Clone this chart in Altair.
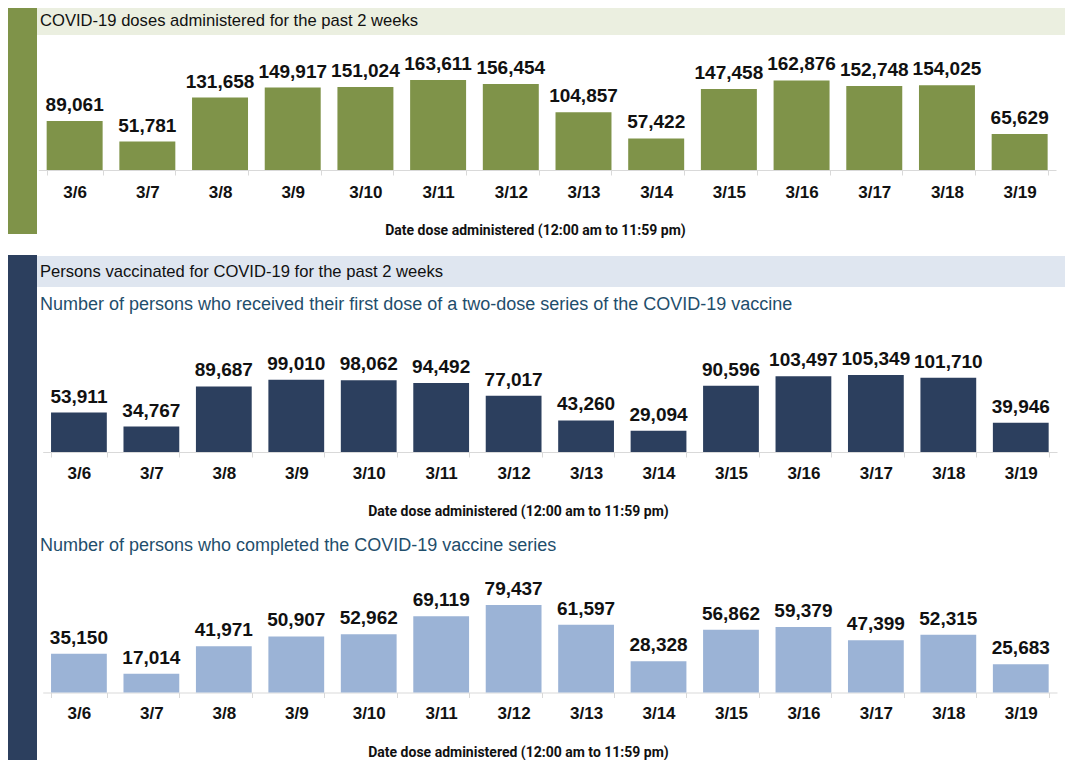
import altair as alt
import pandas as pd

dates = ["3/6", "3/7", "3/8", "3/9", "3/10", "3/11", "3/12",
         "3/13", "3/14", "3/15", "3/16", "3/17", "3/18", "3/19"]
doses = [89061, 51781, 131658, 149917, 151024, 163611, 156454,
         104857, 57422, 147458, 162876, 152748, 154025, 65629]
first_dose = [53911, 34767, 89687, 99010, 98062, 94492, 77017,
              43260, 29094, 90596, 103497, 105349, 101710, 39946]
completed = [35150, 17014, 41971, 50907, 52962, 69119, 79437,
             61597, 28328, 56862, 59379, 47399, 52315, 25683]

header1 = "COVID-19 doses administered for the past 2 weeks"
header2 = "Persons vaccinated for COVID-19 for the past 2 weeks"
sub1 = "Number of persons who received their first dose of a two-dose series of the COVID-19 vaccine"
sub2 = "Number of persons who completed the COVID-19 vaccine series"
axis_title = "Date dose administered (12:00 am to 11:59 pm)"

GREEN = "#7f9349"
NAVY = "#2c3f5e"
LIGHT = "#9bb3d6"
W, H = 1057, 752

BOLD_FONT = "Liberation Sans"
TITLE_FONT = "Roboto"


def rect(x, x2, y, y2, color):
    return alt.Chart(pd.DataFrame({"k": [0]})).mark_rect(color=color).encode(
        x=alt.value(x), x2=alt.value(x2), y=alt.value(y), y2=alt.value(y2))


def label(text, x, y, size, color):
    return alt.Chart(pd.DataFrame({"label": [text]})).mark_text(
        align="left", baseline="middle", font="Liberation Sans",
        fontSize=size, color=color).encode(
        x=alt.value(x), y=alt.value(y), text="label:N")


def section(values, color, xr, yr, offset, lab_pad, title_x, title_y):
    df = pd.DataFrame({"date": dates, "value": values})
    x = alt.X("date:N", sort=dates,
              scale=alt.Scale(range=xr, paddingInner=0.23, paddingOuter=0.115),
              axis=alt.Axis(orient="bottom", offset=offset, title=axis_title,
                            labelAngle=0, labelBaseline="middle",
                            labelPadding=lab_pad, titleX=title_x, titleY=title_y,
                            titleBaseline="middle", titleAnchor="middle",
                            titleAlign="center"))
    y = alt.Y("value:Q",
              scale=alt.Scale(domain=[0, max(values)], range=yr, nice=False, zero=True),
              axis=None)
    bars = alt.Chart(df).mark_bar(color=color).encode(x=x, y=y)
    txt = alt.Chart(df).mark_text(
        baseline="alphabetic", dy=-10, font=BOLD_FONT, fontWeight="bold",
        fontSize=19, color="#111111").encode(
        x=x, y=y, text=alt.Text("value:Q", format=","))
    return alt.layer(bars, txt)


deco = [
    rect(0, 29, 0, 226, GREEN),
    rect(29, W, 0, 27, "#ebefe0"),
    rect(0, 29, 247, H, NAVY),
    rect(29, W, 248, 279, "#dfe6f0"),
    label(header1, 32, 13, 16.6, "#111111"),
    label(header2, 32, 264, 16.6, "#111111"),
    label(sub1, 32, 297, 18, "#1f4e6c"),
    label(sub2, 32, 538, 18, "#1f4e6c"),
]

s1 = section(doses, GREEN, [30.3, 1048], [162, 72], 162 - H, 17, 527, 60)
s2 = section(first_dose, NAVY, [34.7, 1049], [444, 367], 444 - H, 16, 510, 59)
s3 = section(completed, LIGHT, [34.7, 1049], [684.5, 597], 684.5 - H, 16, 510, 59.5)

chart = alt.layer(*deco, s1, s2, s3).resolve_scale(
    x="independent", y="independent").resolve_axis(x="independent").properties(
    width=W, height=H, padding=0,
    autosize=alt.AutoSizeParams(type="none"),
    background="white",
).configure_view(stroke=None).configure_axis(
    domainColor="#d9d9d9", tickColor="#d9d9d9", tickSize=5, tickBand="extent",
    grid=False, labelFont=BOLD_FONT, labelFontWeight="bold", labelFontSize=17,
    labelColor="#111111", titleFont=TITLE_FONT, titleFontWeight="bold",
    titleFontSize=14, titleColor="#111111")

chart.save("out.html", embed_options={"renderer": "svg", "actions": False})
